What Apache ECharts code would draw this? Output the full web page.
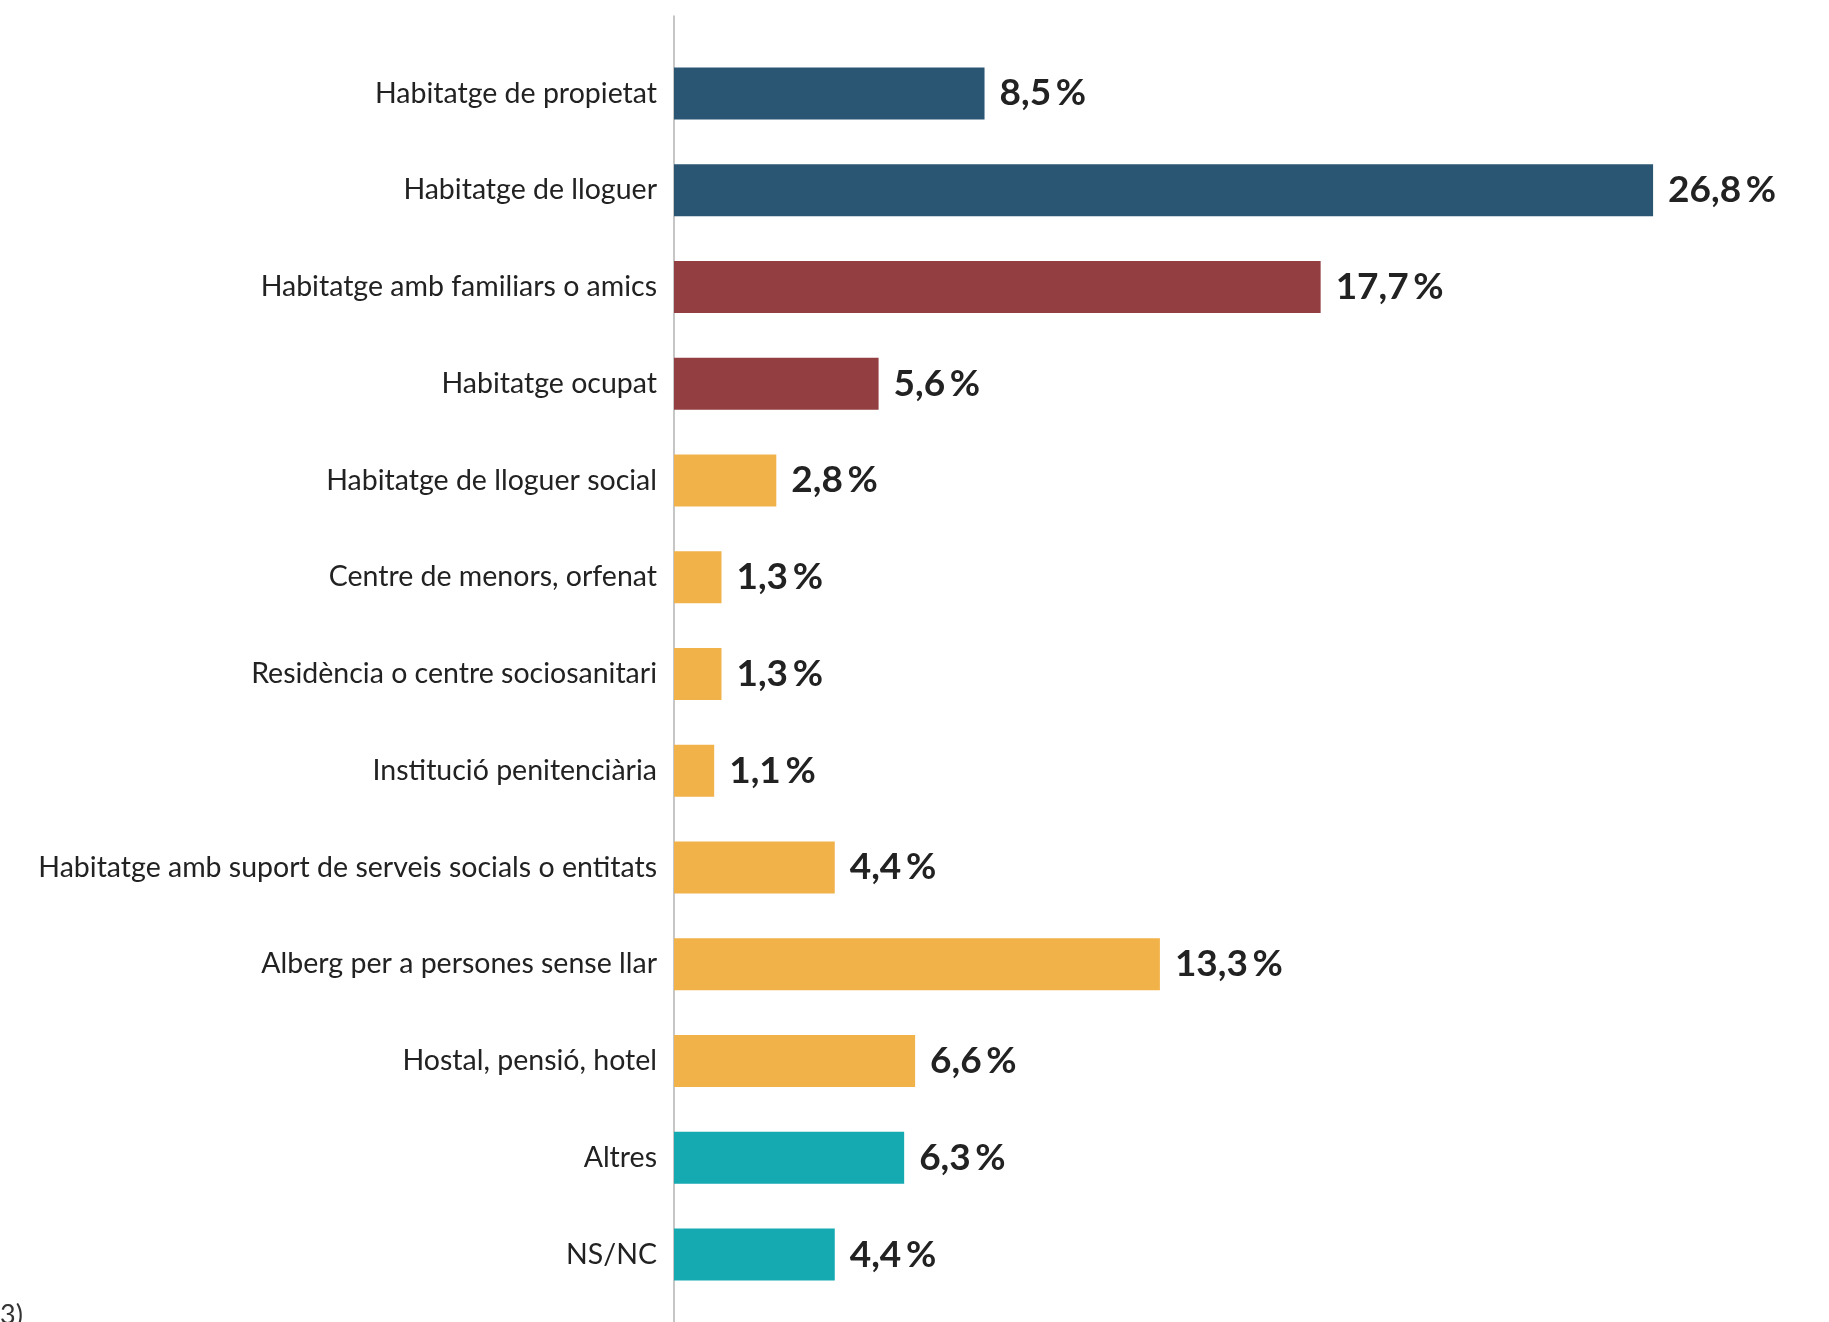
<!DOCTYPE html>
<html>
<head>
<meta charset="utf-8">
<script src="https://cdn.jsdelivr.net/npm/echarts@6/dist/echarts.min.js"></script>
<style>
html,body{margin:0;padding:0;background:#fff;}
#chart{width:1829px;height:1322px;}
</style>
</head>
<body>
<div id="chart"></div>
<script>
const categories = [
  "Habitatge de propietat",
  "Habitatge de lloguer",
  "Habitatge amb familiars o amics",
  "Habitatge ocupat",
  "Habitatge de lloguer social",
  "Centre de menors, orfenat",
  "Residència o centre sociosanitari",
  "Institució penitenciària",
  "Habitatge amb suport de serveis socials o entitats",
  "Alberg per a persones sense llar",
  "Hostal, pensió, hotel",
  "Altres",
  "NS/NC"
];
const values = [8.5, 26.8, 17.7, 5.6, 2.8, 1.3, 1.3, 1.1, 4.4, 13.3, 6.6, 6.3, 4.4];
const groups = ["own", "own", "shared", "shared", "inst", "inst", "inst", "inst", "inst", "inst", "inst", "other", "other"];
const groupColors = { own: "#2B5673", shared: "#933F42", inst: "#F1B24A", other: "#15A9B1" };
const footnoteFragment = "3)";

const chart = echarts.init(document.getElementById('chart'), null, { renderer: 'canvas' });
const font = 'Lato';
chart.setOption({
  animation: false,
  backgroundColor: '#ffffff',
  grid: [
    { left: 674, top: 45, width: 1096, height: 1258, containLabel: false },
    { left: 674, top: 16, width: 10, bottom: 0, containLabel: false }
  ],
  xAxis: [
    { gridIndex: 0, type: 'value', min: 0, max: 30, show: false },
    { gridIndex: 1, type: 'value', min: 0, max: 1, show: false }
  ],
  yAxis: [
    {
      gridIndex: 0, type: 'category', data: categories, inverse: true,
      axisLine: { show: false }, axisTick: { show: false },
      axisLabel: { margin: 17, fontFamily: font, fontSize: 28.5, color: '#222222' }
    },
    {
      gridIndex: 1, type: 'value', min: 0, max: 1,
      axisLine: { show: true, lineStyle: { color: '#b3b3b3', width: 1.5 } },
      axisTick: { show: false }, axisLabel: { show: false }, splitLine: { show: false }
    }
  ],
  graphic: [
    { type: 'text', left: 0, top: 1302, style: { text: footnoteFragment, font: '27px Lato', fill: '#333' } }
  ],
  series: [{
    type: 'bar',
    xAxisIndex: 0, yAxisIndex: 0,
    barWidth: 52,
    data: values.map((v, i) => ({ value: v, itemStyle: { color: groupColors[groups[i]] } })),
    label: {
      show: true, position: 'right', distance: 15,
      fontFamily: font, fontWeight: 'bold', fontSize: 37, color: '#222222',
      formatter: p => p.value.toFixed(1).replace('.', ',') + '\u2009%'
    }
  }]
});
</script>
</body>
</html>
